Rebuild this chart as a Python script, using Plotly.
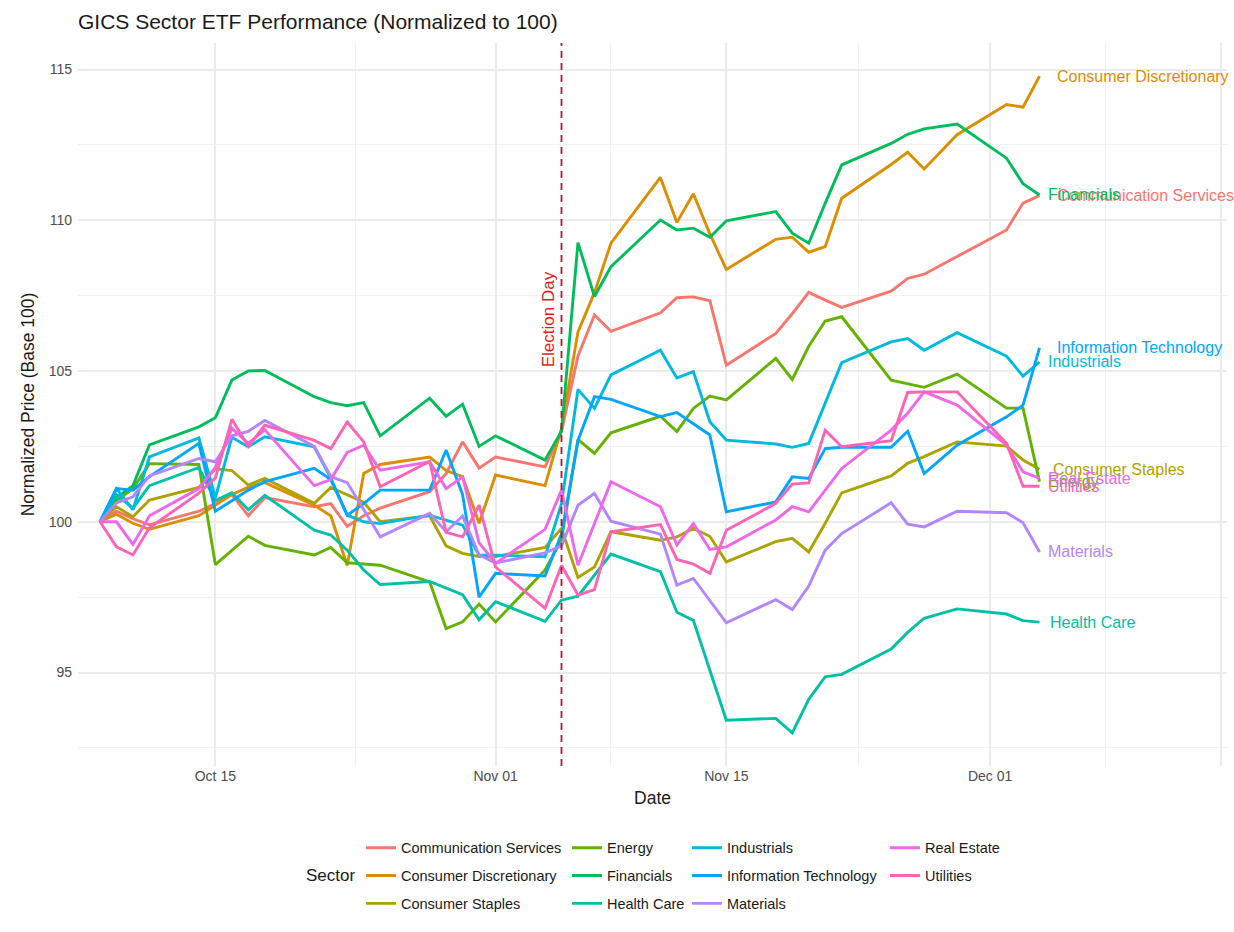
import plotly.graph_objects as go

# ---------------- data ----------------
dates = [
    "2024-10-08", "2024-10-09", "2024-10-10", "2024-10-11", "2024-10-14", "2024-10-15",
    "2024-10-16", "2024-10-17", "2024-10-18", "2024-10-21", "2024-10-22", "2024-10-23",
    "2024-10-24", "2024-10-25", "2024-10-28", "2024-10-29", "2024-10-30", "2024-10-31",
    "2024-11-01", "2024-11-04", "2024-11-05", "2024-11-06", "2024-11-07", "2024-11-08",
    "2024-11-11", "2024-11-12", "2024-11-13", "2024-11-14", "2024-11-15", "2024-11-18",
    "2024-11-19", "2024-11-20", "2024-11-21", "2024-11-22", "2024-11-25", "2024-11-26",
    "2024-11-27", "2024-11-29", "2024-12-02", "2024-12-03", "2024-12-04",
]

communication_services = [
    100, 100.35, 100.1, 99.9, 100.35, 100.6, 100.9, 100.2, 100.8, 100.5, 100.6, 99.85,
    100.2, 100.45, 101.0, 101.6, 102.65, 101.78, 102.15, 101.82, 103.0,
    105.5, 106.86, 106.32, 106.93, 107.43, 107.46, 107.33, 105.19, 106.25, 106.9, 107.61,
    107.35, 107.11, 107.65, 108.07, 108.21, 108.8, 109.68, 110.57, 110.82,
]
consumer_discretionary = [
    100, 100.25, 99.95, 99.75, 100.2, 100.55, 100.9, 101.15, 101.3, 100.55, 100.2, 98.55,
    101.6, 101.9, 102.15, 101.7, 101.5, 99.95, 101.55, 101.2, 103.1,
    106.3, 107.6, 109.24, 111.42, 109.93, 110.88, 109.55, 108.37, 109.37, 109.44, 108.94,
    109.13, 110.73, 111.85, 112.26, 111.7, 112.84, 113.84, 113.75, 114.78,
]
consumer_staples = [
    100, 100.5, 100.17, 100.72, 101.14, 101.76, 101.7, 101.22, 101.44, 100.61, 101.14, 100.9,
    100.65, 100.0, 100.2, 99.2, 98.95, 98.85, 98.85, 99.15, 99.78,
    98.15, 98.5, 99.67, 99.39, 99.5, 99.78, 99.52, 98.67, 99.34, 99.45, 99.0,
    99.95, 100.96, 101.52, 101.94, 102.16, 102.65, 102.51, 102.05, 101.74,
]
energy = [
    100, 100.7, 101.1, 101.93, 101.9, 98.58, 99.05, 99.52, 99.22, 98.9, 99.15, 98.64,
    98.6, 98.56, 98.01, 96.46, 96.68, 97.27, 96.68, 98.4, 99.4,
    102.73, 102.27, 102.95, 103.5, 102.99, 103.76, 104.17, 104.04, 105.42, 104.72, 105.82,
    106.66, 106.8, 104.7, 104.57, 104.46, 104.9, 103.77, 103.77, 101.33,
]
financials = [
    100, 100.8, 101.2, 102.55, 103.15, 103.45, 104.7, 105.0, 105.02, 104.15, 103.95, 103.85,
    103.95, 102.85, 104.1, 103.5, 103.9, 102.5, 102.85, 102.05, 103.0,
    109.26, 107.47, 108.46, 110.01, 109.68, 109.74, 109.44, 109.98, 110.29, 109.57, 109.24,
    110.57, 111.84, 112.55, 112.85, 113.03, 113.19, 112.06, 111.21, 110.84,
]
health_care = [
    100, 100.9, 100.45, 101.2, 101.8, 100.7, 100.96, 100.4, 100.88, 99.72, 99.56, 99.06,
    98.4, 97.92, 98.02, 97.8, 97.58, 96.75, 97.35, 96.7, 97.4,
    97.53, 98.25, 98.93, 98.35, 97.0, 96.73, 95.06, 93.42, 93.48, 93.0, 94.11,
    94.86, 94.94, 95.78, 96.33, 96.8, 97.11, 96.94, 96.72, 96.67,
]
industrials = [
    100, 101.1, 100.4, 102.15, 102.78, 100.8, 102.8, 102.49, 102.82, 102.49, 101.45, 100.22,
    100.0, 99.94, 100.22, 100.06, 99.89, 98.89, 98.89, 98.84, 100.6,
    104.39, 103.76, 104.87, 105.69, 104.77, 104.98, 103.32, 102.71, 102.58, 102.47, 102.6,
    103.93, 105.28, 105.97, 106.08, 105.69, 106.27, 105.49, 104.83, 105.3,
]
information_technology = [
    100, 101.1, 101.05, 101.5, 102.6, 100.35, 100.7, 101.05, 101.33, 101.77, 101.4, 100.22,
    100.6, 101.05, 101.05, 102.38, 100.9, 97.5, 98.29, 98.2, 99.6,
    102.7, 104.15, 104.06, 103.49, 103.62, 103.25, 102.88, 100.33, 100.66, 101.49, 101.44,
    102.43, 102.47, 102.47, 103.0, 101.6, 102.54, 103.48, 103.87, 105.77,
]
materials = [
    100, 100.63, 100.83, 101.52, 102.1, 101.99, 102.85, 103.0, 103.36, 102.5, 101.5, 101.3,
    100.4, 99.5, 100.28, 99.67, 100.19, 98.9, 98.63, 98.97, 99.2,
    100.55, 100.94, 100.02, 99.59, 97.9, 98.12, 97.4, 96.65, 97.42, 97.09, 97.87,
    99.06, 99.61, 100.63, 99.92, 99.83, 100.35, 100.3, 99.97, 99.0,
]
real_estate = [
    100, 100.0, 99.25, 100.2, 101.1, 101.8, 103.1, 102.6, 103.05, 101.2, 101.4, 102.3,
    102.54, 101.71, 101.99, 101.1, 101.49, 99.3, 98.62, 99.75, 101.05,
    98.56, 99.94, 101.33, 100.5, 99.23, 99.94, 99.08, 99.17, 100.06, 100.5, 100.33,
    101.05, 101.77, 103.04, 103.6, 104.31, 103.87, 102.54, 101.66, 101.44,
]
utilities = [
    100, 99.17, 98.9, 99.8, 100.95, 101.45, 103.4, 102.5, 103.2, 102.7, 102.43, 103.31,
    102.65, 101.16, 102.0, 99.65, 99.5, 100.55, 98.5, 97.13, 98.55,
    97.57, 97.75, 99.67, 99.91, 98.75, 98.6, 98.29, 99.72, 100.61, 101.25, 101.29,
    103.04, 102.49, 102.69, 104.29, 104.31, 104.31, 102.6, 101.18, 101.18,
]

sectors = [
    "Communication Services", "Consumer Discretionary", "Consumer Staples", "Energy",
    "Financials", "Health Care", "Industrials", "Information Technology", "Materials",
    "Real Estate", "Utilities",
]
series = [
    communication_services, consumer_discretionary, consumer_staples, energy, financials,
    health_care, industrials, information_technology, materials, real_estate, utilities,
]
colors = [
    "#F8766D", "#DB8E00", "#AEA200", "#64B200", "#00BD5C", "#00C1A7",
    "#00BADE", "#00A6FF", "#B385FF", "#EF67EB", "#FF63B6",
]
election_date = "2024-11-05"
x_tick_vals = ["2024-10-15", "2024-11-01", "2024-11-15", "2024-12-01", "2024-12-15"]
x_tick_text = ["Oct 15", "Nov 01", "Nov 15", "Dec 01", "Dec 15"]
x_minor_vals = ["2024-10-23 12:00", "2024-11-08", "2024-11-23", "2024-12-08"]

# ---------------- styling ----------------
FONT = "Liberation Sans, Arial, sans-serif"
legend_ids = ["legend", "legend", "legend", "legend2", "legend2", "legend2",
              "legend3", "legend3", "legend3", "legend4", "legend4"]
label_xshift = {
    "Communication Services": 15, "Consumer Discretionary": 15, "Information Technology": 15,
    "Consumer Staples": 11, "Health Care": 8,
}

fig = go.Figure()
for name, vals, col, lg in zip(sectors, series, colors, legend_ids):
    fig.add_trace(go.Scatter(
        x=dates, y=vals, mode="lines", name=name, legend=lg, legendgroup=name,
        line=dict(color=col, width=2.9), hoverinfo="x+y+name",
    ))
    fig.add_annotation(
        x=dates[-1], y=vals[-1], text=name, showarrow=False, xanchor="left",
        yanchor="middle", xshift=label_xshift.get(name, 6),
        font=dict(family=FONT, size=16, color=col),
    )

# election day line + label
fig.add_shape(type="line", x0=election_date, x1=election_date, xref="x",
              y0=0, y1=1, yref="paper",
              line=dict(color="#B2182B", width=1.8, dash="7px,5px"))
fig.add_annotation(x=election_date, y=106.7, text="Election Day", textangle=-90,
                   showarrow=False, xanchor="center", yanchor="middle", xshift=-13,
                   font=dict(family=FONT, size=17, color="#E41A1C"))

# "Sector" legend title
fig.add_annotation(x=0.2195, y=-0.152, xref="paper", yref="paper", text="Sector",
                   showarrow=False, xanchor="center", yanchor="middle",
                   font=dict(family=FONT, size=17, color="#1A1A1A"))

leg_common = dict(orientation="v", xanchor="left", yanchor="top", tracegroupgap=6,
                  itemwidth=30, bgcolor="rgba(0,0,0,0)",
                  font=dict(family=FONT, size=14.5, color="#1A1A1A"))
fig.update_layout(
    legend=dict(x=0.2463, y=-0.091, **leg_common),
    legend2=dict(x=0.4256, y=-0.091, **leg_common),
    legend3=dict(x=0.530, y=-0.091, **leg_common),
    legend4=dict(x=0.7023, y=-0.091, **leg_common),
)

fig.update_layout(
    width=1234, height=932,
    margin=dict(l=78, r=7, t=43, b=166),
    paper_bgcolor="white", plot_bgcolor="white",
    font=dict(family=FONT, color="#1A1A1A"),
    title=dict(text="GICS Sector ETF Performance (Normalized to 100)", x=0, xref="paper",
               xanchor="left", y=1 - 22 / 932, yref="container", yanchor="middle",
               font=dict(family=FONT, size=21, color="#1A1A1A")),
    showlegend=True,
)
fig.update_xaxes(
    type="date", range=["2024-10-06 16:00", "2024-12-15 09:00"],
    tickmode="array", tickvals=x_tick_vals, ticktext=x_tick_text,
    showgrid=True, gridcolor="#EBEBEB", gridwidth=1.5, zeroline=False, showline=False,
    ticks="", tickfont=dict(family=FONT, size=14, color="#4D4D4D"),
    minor=dict(tickmode="array", tickvals=x_minor_vals, showgrid=True,
               gridcolor="#F1F1F1", gridwidth=0.9),
    title=dict(text="Date", standoff=8, font=dict(family=FONT, size=17.5, color="#1A1A1A")),
)
fig.update_yaxes(
    range=[91.9, 115.88], tickmode="linear", tick0=95, dtick=5,
    showgrid=True, gridcolor="#EBEBEB", gridwidth=1.5, zeroline=False, showline=False,
    ticks="", ticklabelstandoff=5, tickfont=dict(family=FONT, size=14, color="#4D4D4D"),
    minor=dict(dtick=2.5, tick0=92.5, showgrid=True, gridcolor="#F1F1F1", gridwidth=0.9),
    title=dict(text="Normalized Price (Base 100)", standoff=9,
               font=dict(family=FONT, size=17.5, color="#1A1A1A")),
)

fig.write_html("out.html", config={"displayModeBar": False},
               post_script="document.body.style.margin='0px';")
